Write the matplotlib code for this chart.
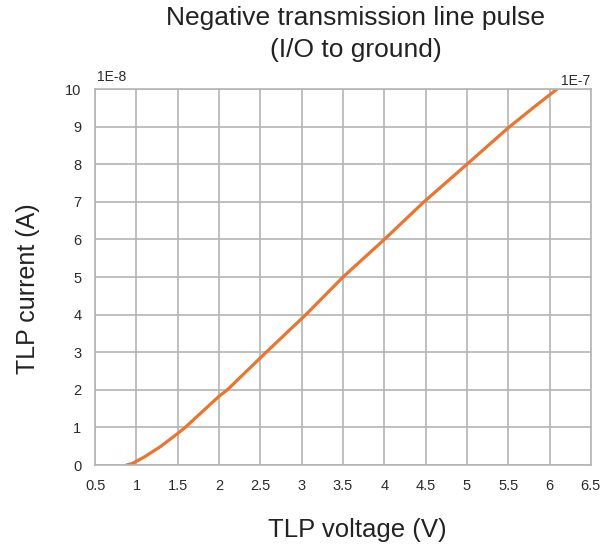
import matplotlib.pyplot as plt

plt.rcParams['font.family'] = ['Liberation Sans', 'DejaVu Sans']

# curve
voltage = [0.88, 0.95, 1.0, 1.1, 1.29, 1.5, 1.59, 2.0, 2.1, 2.57, 3.05, 3.5, 4.0, 4.48, 5.0, 5.5, 5.8, 6.09]
current = [0.0, 0.04, 0.1, 0.22, 0.49, 0.84, 1.0, 1.83, 2.0, 3.0, 4.0, 5.0, 6.0, 7.0, 8.0, 8.97, 9.5, 10.0]
xticks = [0.5, 1, 1.5, 2, 2.5, 3, 3.5, 4, 4.5, 5, 5.5, 6, 6.5]
xticklabels = ['0.5', '1', '1.5', '2', '2.5', '3', '3.5', '4', '4.5', '5', '5.5', '6', '6.5']
yticks = list(range(0, 11))

fig = plt.figure(figsize=(6.06, 5.5), dpi=100)
ax = fig.add_axes([0.157, 0.1545, 0.818, 0.6835])

ax.plot(voltage, current, color='#ec7330', lw=2.3, solid_capstyle='round',
        solid_joinstyle='round')

ax.set_xlim(0.5, 6.5)
ax.set_ylim(0, 10)
ax.set_xticks(xticks)
ax.set_xticklabels(xticklabels)
ax.set_yticks(yticks)
ax.grid(True, color='#b4b4b4', lw=1.2)
ax.set_axisbelow(True)
for s in ax.spines.values():
    s.set_color('#b4b4b4')
    s.set_linewidth(1.2)
ax.tick_params(length=0, labelsize=10.5, colors='#2a2a2a', pad=10)

ax.text(0.7, 10.32, '1E-8', fontsize=10, color='#2a2a2a', va='center', ha='center')
ax.text(6.32, 10.22, '1E-7', fontsize=10, color='#2a2a2a', va='center', ha='center')

fig.text(0.587, 0.99, 'Negative transmission line pulse\n(I/O to ground)',
         ha='center', va='top', fontsize=19, color='#222222', linespacing=1.45)
fig.text(0.047, 0.475, 'TLP current (A)', rotation=90, ha='center', va='center',
         fontsize=18, color='#222222')
fig.text(0.59, 0.037, 'TLP voltage (V)', ha='center', va='center',
         fontsize=18.5, color='#222222')

fig.savefig('out.png', dpi=100)
